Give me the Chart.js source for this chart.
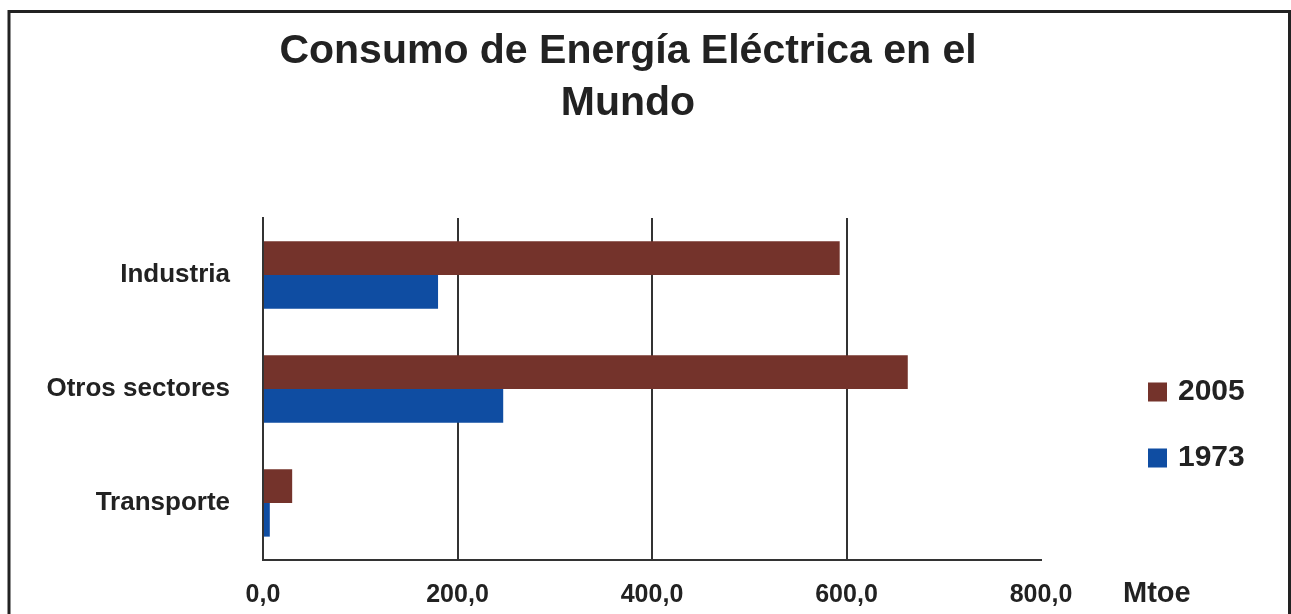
<!DOCTYPE html>
<html>
<head>
<meta charset="utf-8">
<script src="https://cdn.jsdelivr.net/npm/chart.js@4"></script>
<style>
  html, body { margin: 0; padding: 0; background: #fff; }
  canvas { display: block; }
</style>
</head>
<body>
<canvas id="c" width="1291" height="614"></canvas>
<script>
const titleLines = ['Consumo de Energía Eléctrica en el', 'Mundo'];
const categories = ['Industria', 'Otros sectores', 'Transporte'];
const seriesLabels = ['2005', '1973'];
const values2005 = [593, 663, 30];
const values1973 = [180, 247, 7];
const xTicks = [0, 200, 400, 600, 800];
const xUnit = 'Mtoe';

const FONT = '"Liberation Sans", Arial, sans-serif';
const TEXT = '#222';
const LINE = '#333';

const fmt = v => v.toFixed(1).replace('.', ',');

const decor = {
  id: 'decor',
  beforeDraw(chart) {
    const c = chart.ctx;
    c.save();
    c.fillStyle = '#fff';
    c.fillRect(0, 0, chart.width, chart.height);
    c.strokeStyle = '#222';
    c.lineWidth = 3;
    c.strokeRect(9, 11.5, 1280.5, 700);
    c.restore();
  },
  afterDraw(chart) {
    const c = chart.ctx;
    c.save();
    c.fillStyle = TEXT;
    c.textAlign = 'center';
    c.textBaseline = 'middle';
    c.font = 'bold 41px ' + FONT;
    titleLines.forEach((t, i) => c.fillText(t, 628, 52 + i * 52));
    // unit label
    c.textAlign = 'left';
    c.font = 'bold 29px ' + FONT;
    c.fillText(xUnit, 1123, 594);
    // legend
    c.font = 'bold 30px ' + FONT;
    chart.data.datasets.forEach((ds, i) => {
      const cy = 392 + i * 66;
      c.fillStyle = ds.backgroundColor;
      c.fillRect(1148, cy - 9.5, 19, 19);
      c.fillStyle = TEXT;
      c.fillText(ds.label, 1178, cy);
    });
    c.restore();
  }
};

new Chart(document.getElementById('c'), {
  type: 'bar',
  data: {
    labels: categories,
    datasets: [
      { label: seriesLabels[0], data: values2005, backgroundColor: '#74332B' },
      { label: seriesLabels[1], data: values1973, backgroundColor: '#0F4DA2' }
    ]
  },
  options: {
    indexAxis: 'y',
    responsive: false,
    animation: false,
    devicePixelRatio: 1,
    layout: { padding: { top: 218, right: 250, left: 0, bottom: 0 } },
    datasets: { bar: { barPercentage: 1, categoryPercentage: 0.59, borderWidth: 0 } },
    plugins: {
      legend: { display: false },
      title: { display: false },
      tooltip: { enabled: false }
    },
    scales: {
      x: {
        type: 'linear',
        min: xTicks[0],
        max: xTicks[xTicks.length - 1],
        afterBuildTicks: s => { s.ticks = xTicks.map(v => ({ value: v })); },
        afterFit: s => { s.height = 54; },
        ticks: {
          padding: 20,
          color: TEXT,
          font: { family: FONT, size: 25, weight: 'bold' },
          callback: v => fmt(v)
        },
        grid: {
          drawTicks: false,
          lineWidth: 2,
          color: ctx => (ctx.tick && (ctx.tick.value === 0 || ctx.tick.value === 800)) ? 'rgba(0,0,0,0)' : LINE
        },
        border: { display: true, color: LINE, width: 2 }
      },
      y: {
        type: 'category',
        afterFit: s => { s.width = 263; },
        ticks: {
          padding: 33,
          color: TEXT,
          font: { family: FONT, size: 26, weight: 'bold' }
        },
        grid: { display: false, drawTicks: false },
        border: { display: true, color: LINE, width: 2 }
      }
    }
  },
  plugins: [decor]
});
</script>
</body>
</html>
